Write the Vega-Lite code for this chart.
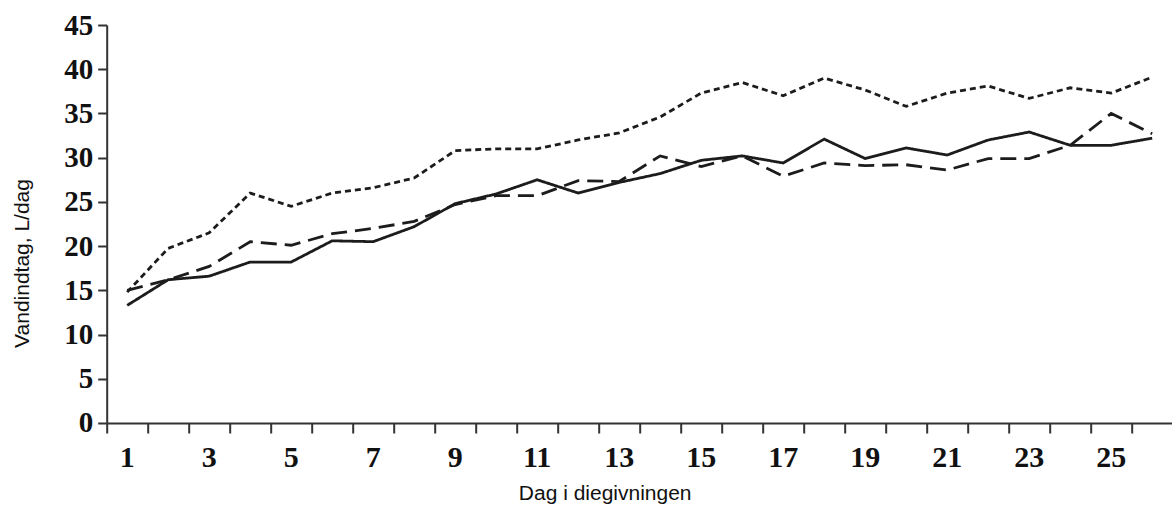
{
  "$schema": "https://vega.github.io/schema/vega-lite/v6.json",
  "width": 1066,
  "height": 398,
  "autosize": "none",
  "padding": {"left": 106.7, "top": 25, "right": 0, "bottom": 86},
  "background": "white",
  "config": {"view": {"stroke": null}},
  "datasets": {
    "vand": [
      {"dag": 1, "serie": "Serie A", "liter": 13.3},
      {"dag": 2, "serie": "Serie A", "liter": 16.2},
      {"dag": 3, "serie": "Serie A", "liter": 16.6},
      {"dag": 4, "serie": "Serie A", "liter": 18.2},
      {"dag": 5, "serie": "Serie A", "liter": 18.2},
      {"dag": 6, "serie": "Serie A", "liter": 20.6},
      {"dag": 7, "serie": "Serie A", "liter": 20.5},
      {"dag": 8, "serie": "Serie A", "liter": 22.2},
      {"dag": 9, "serie": "Serie A", "liter": 24.8},
      {"dag": 10, "serie": "Serie A", "liter": 25.9},
      {"dag": 11, "serie": "Serie A", "liter": 27.5},
      {"dag": 12, "serie": "Serie A", "liter": 26.0},
      {"dag": 13, "serie": "Serie A", "liter": 27.2},
      {"dag": 14, "serie": "Serie A", "liter": 28.2},
      {"dag": 15, "serie": "Serie A", "liter": 29.7},
      {"dag": 16, "serie": "Serie A", "liter": 30.2},
      {"dag": 17, "serie": "Serie A", "liter": 29.4},
      {"dag": 18, "serie": "Serie A", "liter": 32.1},
      {"dag": 19, "serie": "Serie A", "liter": 29.9},
      {"dag": 20, "serie": "Serie A", "liter": 31.1},
      {"dag": 21, "serie": "Serie A", "liter": 30.3},
      {"dag": 22, "serie": "Serie A", "liter": 32.0},
      {"dag": 23, "serie": "Serie A", "liter": 32.9},
      {"dag": 24, "serie": "Serie A", "liter": 31.4},
      {"dag": 25, "serie": "Serie A", "liter": 31.4},
      {"dag": 26, "serie": "Serie A", "liter": 32.2},
      {"dag": 1, "serie": "Serie B", "liter": 15.0},
      {"dag": 2, "serie": "Serie B", "liter": 16.2},
      {"dag": 3, "serie": "Serie B", "liter": 17.7},
      {"dag": 4, "serie": "Serie B", "liter": 20.5},
      {"dag": 5, "serie": "Serie B", "liter": 20.1},
      {"dag": 6, "serie": "Serie B", "liter": 21.4},
      {"dag": 7, "serie": "Serie B", "liter": 22.0},
      {"dag": 8, "serie": "Serie B", "liter": 22.8},
      {"dag": 9, "serie": "Serie B", "liter": 24.7},
      {"dag": 10, "serie": "Serie B", "liter": 25.7},
      {"dag": 11, "serie": "Serie B", "liter": 25.7},
      {"dag": 12, "serie": "Serie B", "liter": 27.4},
      {"dag": 13, "serie": "Serie B", "liter": 27.3},
      {"dag": 14, "serie": "Serie B", "liter": 30.2},
      {"dag": 15, "serie": "Serie B", "liter": 29.0},
      {"dag": 16, "serie": "Serie B", "liter": 30.2},
      {"dag": 17, "serie": "Serie B", "liter": 27.9},
      {"dag": 18, "serie": "Serie B", "liter": 29.4},
      {"dag": 19, "serie": "Serie B", "liter": 29.1},
      {"dag": 20, "serie": "Serie B", "liter": 29.2},
      {"dag": 21, "serie": "Serie B", "liter": 28.6},
      {"dag": 22, "serie": "Serie B", "liter": 29.9},
      {"dag": 23, "serie": "Serie B", "liter": 29.9},
      {"dag": 24, "serie": "Serie B", "liter": 31.4},
      {"dag": 25, "serie": "Serie B", "liter": 35.0},
      {"dag": 26, "serie": "Serie B", "liter": 32.7},
      {"dag": 1, "serie": "Serie C", "liter": 14.8},
      {"dag": 2, "serie": "Serie C", "liter": 19.75},
      {"dag": 3, "serie": "Serie C", "liter": 21.5},
      {"dag": 4, "serie": "Serie C", "liter": 26.0},
      {"dag": 5, "serie": "Serie C", "liter": 24.5},
      {"dag": 6, "serie": "Serie C", "liter": 26.0},
      {"dag": 7, "serie": "Serie C", "liter": 26.6},
      {"dag": 8, "serie": "Serie C", "liter": 27.7},
      {"dag": 9, "serie": "Serie C", "liter": 30.8},
      {"dag": 10, "serie": "Serie C", "liter": 31.0},
      {"dag": 11, "serie": "Serie C", "liter": 31.0},
      {"dag": 12, "serie": "Serie C", "liter": 32.0},
      {"dag": 13, "serie": "Serie C", "liter": 32.8},
      {"dag": 14, "serie": "Serie C", "liter": 34.6},
      {"dag": 15, "serie": "Serie C", "liter": 37.3},
      {"dag": 16, "serie": "Serie C", "liter": 38.5},
      {"dag": 17, "serie": "Serie C", "liter": 37.0},
      {"dag": 18, "serie": "Serie C", "liter": 39.0},
      {"dag": 19, "serie": "Serie C", "liter": 37.65},
      {"dag": 20, "serie": "Serie C", "liter": 35.8},
      {"dag": 21, "serie": "Serie C", "liter": 37.3},
      {"dag": 22, "serie": "Serie C", "liter": 38.1},
      {"dag": 23, "serie": "Serie C", "liter": 36.7},
      {"dag": 24, "serie": "Serie C", "liter": 37.9},
      {"dag": 25, "serie": "Serie C", "liter": 37.3},
      {"dag": 26, "serie": "Serie C", "liter": 39.1}
    ]
  },
  "data": {"name": "vand"},
  "mark": {"type": "line", "color": "#1c1c1c", "strokeWidth": 2.8},
  "encoding": {
    "x": {
      "field": "dag",
      "type": "ordinal",
      "scale": {"type": "band", "paddingInner": 0, "paddingOuter": 0},
      "axis": {
        "bandPosition": 0,
        "labelAngle": 0,
        "labelOverlap": false,
        "labelExpr": "datum.value % 2 == 1 ? datum.label : ''",
        "tickSize": 10,
        "tickWidth": 2,
        "tickColor": "#333333",
        "domainColor": "#333333",
        "domainWidth": 2,
        "grid": false,
        "labelFont": "Liberation Serif",
        "labelFontWeight": "bold",
        "labelFontSize": 30,
        "labelColor": "#111111",
        "labelBaseline": "middle",
        "labelPadding": 25,
        "title": "Dag i diegivningen",
        "titleFont": "Liberation Sans",
        "titleFontWeight": "normal",
        "titleFontSize": 21,
        "titleColor": "#111111",
        "titleX": 498,
        "titleY": 71,
        "titleBaseline": "middle",
        "titleAlign": "center"
      }
    },
    "y": {
      "field": "liter",
      "type": "quantitative",
      "scale": {"domain": [0, 45], "nice": false, "zero": true},
      "axis": {
        "values": [0, 5, 10, 15, 20, 25, 30, 35, 40, 45],
        "tickSize": 9,
        "tickWidth": 2,
        "tickColor": "#333333",
        "domainColor": "#333333",
        "domainWidth": 2,
        "grid": false,
        "labelFont": "Liberation Serif",
        "labelFontWeight": "bold",
        "labelFontSize": 29,
        "labelColor": "#111111",
        "labelPadding": 5,
        "title": "Vandindtag, L/dag",
        "titleFont": "Liberation Sans",
        "titleFontWeight": "normal",
        "titleFontSize": 21,
        "titleColor": "#111111",
        "titleX": -84,
        "titleY": 238,
        "titleBaseline": "middle",
        "titleAlign": "center",
        "titleAngle": -90
      }
    },
    "strokeDash": {
      "field": "serie",
      "type": "nominal",
      "scale": {"domain": ["Serie A", "Serie B", "Serie C"], "range": [[1, 0], [16, 8], [6, 4]]},
      "legend": null
    }
  }
}
